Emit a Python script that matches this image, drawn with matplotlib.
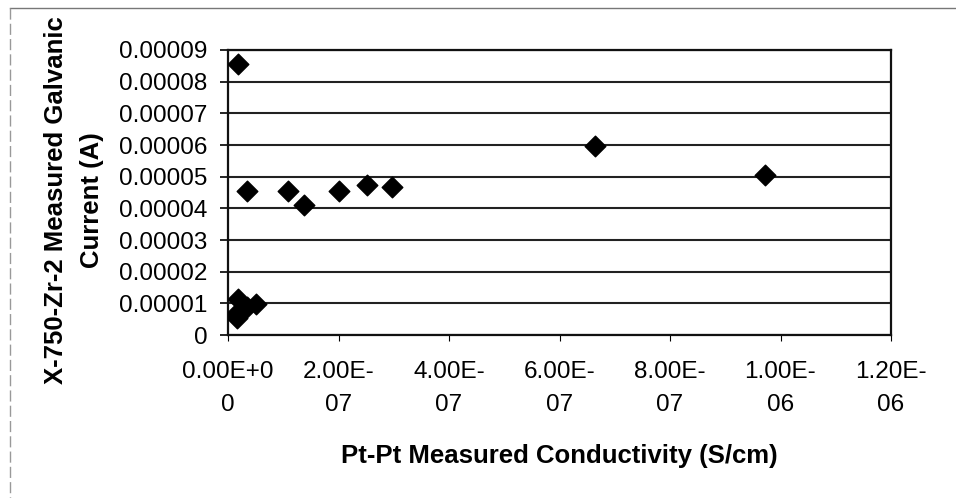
import matplotlib.pyplot as plt
from matplotlib.ticker import FixedLocator, FixedFormatter

plt.rcParams['font.family'] = ['Liberation Sans', 'DejaVu Sans']

# conductivity (S/cm) and galvanic current (A)
condutividade = [1.9e-8, 3.5e-8, 1.08e-7, 1.376e-7, 2.01e-7, 2.52e-7, 2.96e-7,
                 1.9e-8, 3.5e-8, 5.1e-8, 1.2e-8, 1.6e-8, 6.64e-7, 9.72e-7]
corrente = [8.56e-5, 4.55e-5, 4.55e-5, 4.1e-5, 4.55e-5, 4.74e-5, 4.66e-5,
            1.14e-5, 0.89e-5, 0.97e-5, 0.62e-5, 0.55e-5, 5.97e-5, 5.06e-5]

ticks_x = [0, 2e-7, 4e-7, 6e-7, 8e-7, 1e-6, 1.2e-6]
rotulos_x = ['0.00E+0\n0', '2.00E-\n07', '4.00E-\n07', '6.00E-\n07',
             '8.00E-\n07', '1.00E-\n06', '1.20E-\n06']
ticks_y = [0, 1e-5, 2e-5, 3e-5, 4e-5, 5e-5, 6e-5, 7e-5, 8e-5, 9e-5]
rotulos_y = ['0', '0.00001', '0.00002', '0.00003', '0.00004', '0.00005',
             '0.00006', '0.00007', '0.00008', '0.00009']

fig = plt.figure(figsize=(9.56, 4.98), dpi=100)
ax = fig.add_axes([228 / 956, 1 - 335 / 498, (891 - 228) / 956, (335 - 50) / 498])

ax.scatter(condutividade, corrente, marker='D', s=110, color='black', zorder=3)

ax.set_xlim(0, 1.2e-6)
ax.set_ylim(0, 9e-5)
ax.xaxis.set_major_locator(FixedLocator(ticks_x))
ax.xaxis.set_major_formatter(FixedFormatter(rotulos_x))
ax.yaxis.set_major_locator(FixedLocator(ticks_y))
ax.yaxis.set_major_formatter(FixedFormatter(rotulos_y))

ax.grid(axis='y', color='#222222', linewidth=1.5)
ax.set_axisbelow(True)
for lado in ax.spines.values():
    lado.set_linewidth(1.6)
    lado.set_color('#111111')

ax.tick_params(axis='y', labelsize=17.5, length=6, width=1.2, pad=9)
ax.tick_params(axis='x', labelsize=17.5, length=4, width=0.8, pad=15)
for t in ax.get_xticklabels():
    t.set_linespacing(1.65)

ax.set_xlabel('Pt-Pt Measured Conductivity (S/cm)', fontsize=18.5,
              fontweight='bold', labelpad=20)
ax.set_ylabel('X-750-Zr-2 Measured Galvanic\nCurrent (A)', fontsize=18.5,
              fontweight='bold', linespacing=1.63)
ax.yaxis.set_label_coords(-0.187, 0.474)

# moldura cinza da area do grafico
fig.add_artist(plt.Line2D([10 / 956, 1], [1 - 8 / 498, 1 - 8 / 498],
                          color='#777777', linewidth=1))
fig.add_artist(plt.Line2D([10 / 956, 10 / 956], [1 - 8 / 498, 0],
                          color='#999999', linewidth=1, linestyle=(0, (8, 3))))

plt.savefig('out.png', dpi=100)
